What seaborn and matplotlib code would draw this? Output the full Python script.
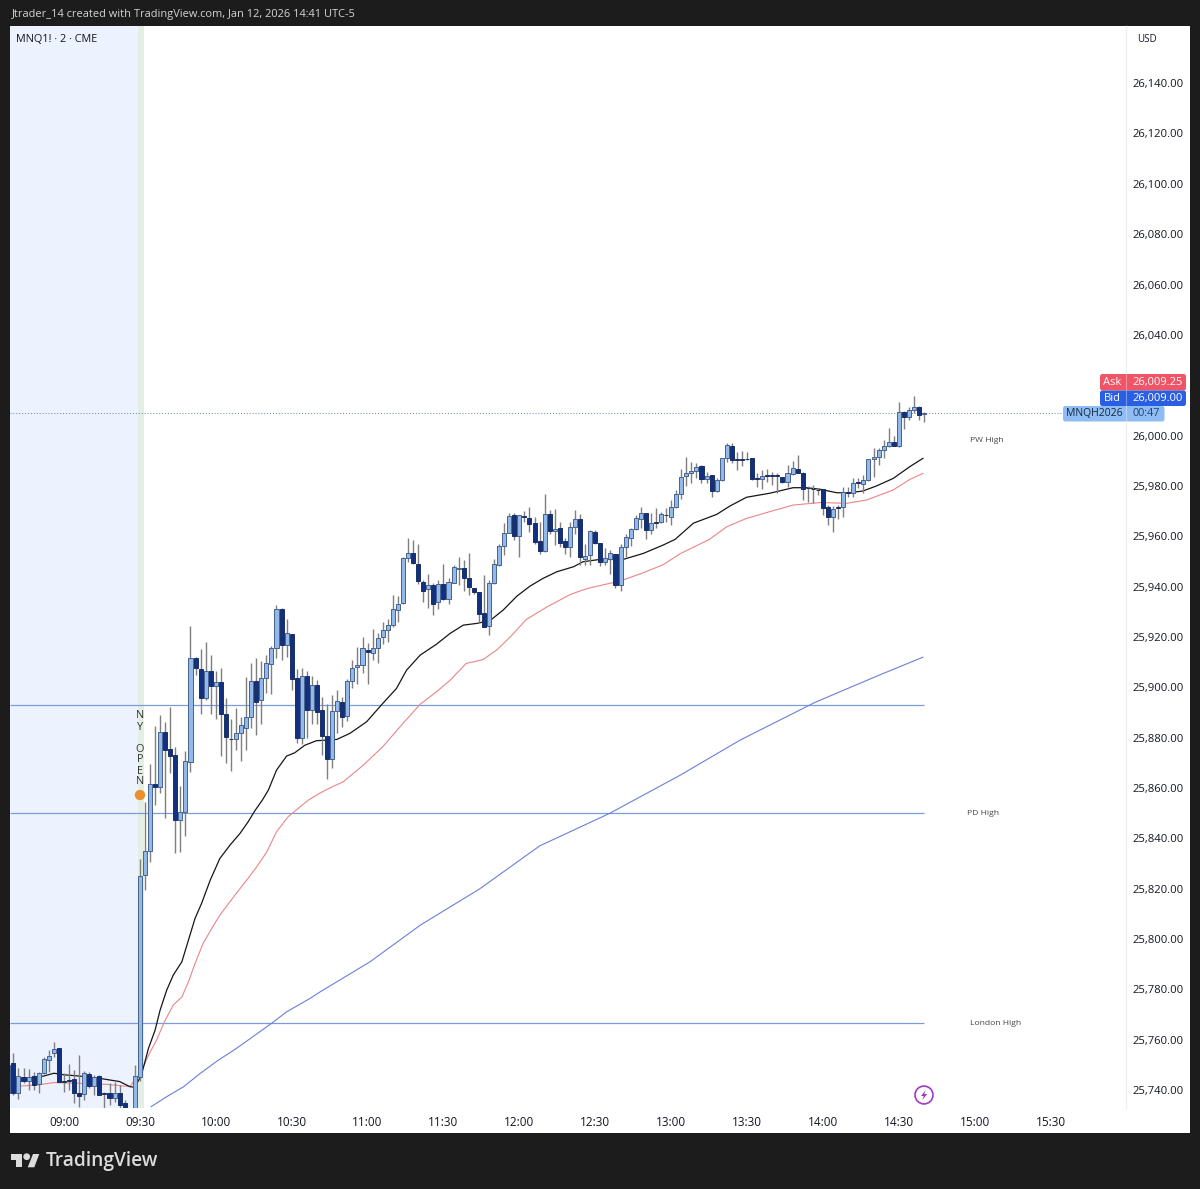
import numpy as np
import pandas as pd
import matplotlib
matplotlib.use("Agg")
import matplotlib.pyplot as plt
from matplotlib.patches import Rectangle, Polygon, FancyBboxPatch
import seaborn as sns

# 2 minute bars, index 0 = 09:00
bar_index = list(range(-11, 171))
opens = [
    25738.7, 25750.6, 25738.7, 25745.3, 25743.5, 25745.6, 25742.5, 25746.7, 25752, 25754.6,
    25756.6, 25743.5, 25743.9, 25744.5, 25739, 25738.3, 25746.4, 25741.8, 25745.6, 25738.8,
    25738.7, 25737, 25739, 25734.8, 25732, 25730, 25745.2, 25825.4, 25834.8, 25861.6,
    25860.5, 25882.3, 25875.7, 25873, 25847.5, 25850.6, 25870.4, 25911.7, 25907.2, 25895.6,
    25906.6, 25900.7, 25902, 25889.4, 25879.5, 25879.3, 25881.7, 25884, 25888.3, 25902.4,
    25894.9, 25903.9, 25909.2, 25915.8, 25931.3, 25916.7, 25921.1, 25903.9, 25879.7, 25904.4,
    25890.9, 25900.9, 25890.9, 25880.6, 25871.7, 25890.7, 25894.2, 25888.7, 25902.6, 25907.9,
    25908.8, 25915, 25913.8, 25915.8, 25919.8, 25922.7, 25924.7, 25930.9, 25933.6, 25951.4,
    25953.4, 25948.8, 25941.9, 25939.1, 25940.6, 25933.7, 25941.2, 25935.2, 25941.6, 25947.2,
    25947.6, 25943.6, 25939.3, 25937.7, 25929.6, 25924.3, 25941.6, 25948.5, 25956.1, 25961.4,
    25968.4, 25960.2, 25968.2, 25967.1, 25965.2, 25958.2, 25954.1, 25968.7, 25962.2, 25963.3,
    25958.1, 25955.6, 25963.5, 25966.7, 25951.1, 25952.7, 25961.8, 25957.2, 25949.6, 25951.1,
    25952.8, 25940.6, 25955.6, 25959.4, 25962.9, 25967, 25969.1, 25962.5, 25965.5, 25965.5,
    25968.6, 25967.8, 25971.7, 25976.8, 25984, 25985, 25986.1, 25988.1, 25982.6, 25984.2,
    25977.9, 25982.4, 25991, 25996, 25990.7, 25990.6, 25990.8, 25991, 25983, 25982.9,
    25984.2, 25984.2, 25984.2, 25983.4, 25981.7, 25984.6, 25986.6, 25985.3, 25979.2, 25978.9,
    25978.5, 25978.7, 25971.8, 25967.5, 25971.5, 25971.5, 25977.4, 25977.3, 25981.5, 25980.8,
    25982.4, 25990.6, 25991.6, 25994.3, 25995.9, 25997.6, 25995.8, 26009.5, 26007.5, 26010.1,
    26011.5, 26008.6,
]
highs = [
    25751, 25754.6, 25748.7, 25748.7, 25748.3, 25747.3, 25747.3, 25753.3, 25756, 25759.3,
    25756.6, 25746.7, 25750.4, 25748, 25754, 25747.7, 25747.3, 25746, 25746, 25739.4,
    25743, 25743.4, 25742, 25736, 25732.5, 25750, 25832, 25854.5, 25869.5, 25884.6,
    25889.2, 25886.3, 25892, 25876.4, 25860.9, 25874.8, 25924.3, 25912, 25915.4, 25918.1,
    25912.8, 25906.6, 25907.5, 25895.6, 25887.6, 25891.6, 25888.3, 25904.2, 25909.8, 25911.5,
    25910.5, 25912.8, 25916.4, 25932.6, 25931.5, 25927.3, 25921.3, 25907.2, 25907.5, 25906.6,
    25904.4, 25903.1, 25896.2, 25893.3, 25896.9, 25898.9, 25896.2, 25903.5, 25911, 25916.1,
    25920, 25917.7, 25923, 25921.6, 25926, 25927.3, 25936.6, 25936.2, 25951.6, 25959.5,
    25958.7, 25957.1, 25942.8, 25945.2, 25941.5, 25942.6, 25948.8, 25943.6, 25948.5, 25951.6,
    25950.5, 25953.4, 25939.5, 25937.9, 25944.6, 25942.6, 25950.8, 25957, 25965.1, 25969.1,
    25969.4, 25968.6, 25970.1, 25971.7, 25967.8, 25965.8, 25976.8, 25970.4, 25970.7, 25965.8,
    25959.5, 25965.8, 25970.4, 25968.8, 25956.9, 25962.5, 25962.5, 25957.4, 25955.2, 25954.5,
    25953, 25956.9, 25961.1, 25963.1, 25968.4, 25971.7, 25969.3, 25969.1, 25971.1, 25969.7,
    25971.1, 25974.6, 25978.4, 25986.6, 25991.6, 25989.6, 25989.3, 25988.3, 25985.7, 25984.4,
    25983, 25991.2, 25996.9, 25996.9, 25993.6, 25994, 25993.6, 25991.2, 25985, 25986.3,
    25986.6, 25985.7, 25985, 25983.6, 25988.3, 25990, 25992.3, 25985.5, 25980, 25980.4,
    25979, 25978.9, 25972.4, 25972, 25972.4, 25979.7, 25979.7, 25983, 25983, 25984.4,
    25990.8, 25995, 25995, 25998.3, 26002.9, 26000, 26013.4, 26009.7, 26011.5, 26015.7,
    26011.7, 26009.5,
]
lows = [
    25738, 25738, 25736.3, 25742.7, 25740, 25740, 25738.7, 25746.4, 25747.3, 25753.3,
    25743.2, 25739.4, 25740, 25734.8, 25733.4, 25736, 25740.7, 25738, 25738, 25733,
    25734, 25735.4, 25733, 25731, 25729, 25729, 25743.6, 25819.5, 25830.7, 25853.2,
    25857.9, 25847.9, 25865.8, 25834, 25834.7, 25840.9, 25866.5, 25905, 25889.6, 25894.9,
    25889.6, 25887.6, 25872.7, 25869.8, 25866.9, 25875, 25870.8, 25875.3, 25883.7, 25881,
    25885.4, 25897.6, 25897.3, 25911.5, 25910.8, 25912, 25898.9, 25877.7, 25877.4, 25879.7,
    25885.4, 25885.6, 25873, 25863.4, 25867.8, 25881.9, 25884.3, 25886.6, 25899.9, 25901.5,
    25905.8, 25901.3, 25911, 25909.5, 25917.1, 25918, 25923.8, 25926, 25933.3, 25949.8,
    25949, 25941.2, 25934, 25931.7, 25928.9, 25931.3, 25934.7, 25933, 25941.3, 25940.6,
    25938.3, 25936.6, 25937, 25925.4, 25923.8, 25920.7, 25941.2, 25948.3, 25952.5, 25961.2,
    25958.5, 25951.6, 25965.8, 25961.8, 25956.9, 25952.8, 25953.9, 25961.1, 25956.5, 25955.6,
    25952.9, 25951.6, 25960.9, 25948.6, 25948.6, 25948.6, 25956.9, 25948.2, 25948.6, 25945,
    25939.3, 25938.4, 25951.6, 25956.1, 25962.5, 25963.1, 25958.8, 25961.1, 25963.1, 25965.1,
    25965.8, 25964.5, 25971.1, 25974.7, 25980, 25981.3, 25983, 25981, 25981, 25975.5,
    25977.7, 25982, 25989.6, 25989, 25986.3, 25988, 25990.4, 25982.4, 25979.7, 25978.7,
    25981.7, 25980.4, 25977.3, 25981.2, 25979.7, 25984.4, 25985, 25974.4, 25973.8, 25973.4,
    25976.4, 25968.5, 25964.5, 25961.8, 25966.7, 25967.8, 25975.7, 25975.7, 25979, 25977.3,
    25982, 25983.7, 25988.3, 25991, 25995.6, 25995.8, 25995.6, 26002.8, 26006.2, 26008.8,
    26006.2, 26005.2,
]
closes = [
    25750, 25739, 25745.6, 25743.8, 25745.3, 25742, 25746.7, 25752.2, 25753.6, 25756.2,
    25743.2, 25743.2, 25743.7, 25739, 25737.7, 25746.7, 25741.8, 25745.3, 25738, 25738.6,
    25737, 25738.7, 25734.2, 25732, 25731, 25745.6, 25825, 25835.1, 25861.6, 25860.5,
    25882.3, 25875, 25872.8, 25847.3, 25850.6, 25870.7, 25911.5, 25907.5, 25895.6, 25906.4,
    25900.6, 25902.3, 25889.6, 25880.1, 25879.3, 25881.7, 25884.9, 25888.3, 25902.6, 25894.2,
    25903.9, 25909.5, 25915.8, 25931.3, 25916.7, 25921.4, 25903.5, 25879.9, 25904.6, 25890.9,
    25900.9, 25890.3, 25880.6, 25871.5, 25890.7, 25894.5, 25888.3, 25902.6, 25907.7, 25908.8,
    25915.7, 25914.1, 25915.7, 25919.7, 25922.7, 25924.7, 25931.3, 25933.3, 25951.4, 25953.4,
    25949.2, 25942.2, 25938.3, 25940.6, 25933, 25941.2, 25934.9, 25941.9, 25947.9, 25947.6,
    25943.5, 25939.9, 25937.8, 25929.3, 25924, 25941.6, 25948.8, 25956, 25961.4, 25968.2,
    25960.1, 25968.4, 25967.6, 25965, 25957.8, 25954.3, 25968.7, 25962.1, 25963, 25957.4,
    25955.7, 25963.5, 25966.7, 25951.6, 25952.3, 25962.2, 25957.2, 25949.6, 25951.5, 25953.5,
    25940.6, 25955.6, 25959.6, 25962.9, 25967.1, 25969.1, 25962.5, 25965.1, 25965.1, 25968.7,
    25968.4, 25971.7, 25976.8, 25983.7, 25985.1, 25986.1, 25987.7, 25982.6, 25984.1, 25978.1,
    25982.4, 25991, 25996.3, 25990.3, 25990.5, 25990.4, 25990.6, 25982.6, 25982.8, 25984,
    25984, 25984, 25984, 25981.4, 25985, 25987, 25985.3, 25978.7, 25979.1, 25978.8,
    25978.4, 25971.4, 25967.8, 25970.7, 25971.3, 25977.7, 25977.2, 25981.3, 25981.3, 25982.4,
    25990.6, 25991.6, 25994.3, 25995.9, 25997.6, 25996, 26009.5, 26007.5, 26010.1, 26011.5,
    26008.1, 26009,
]

black_x = [-9, -4, -2, 0, 3, 7, 11, 13, 14, 15.3, 16.7, 18, 19, 20.3, 21.6, 23.3, 24.6, 25.9, 27.2, 28.9,
           30.8, 32.8, 34.8, 36.4, 37.8, 39.2, 40.4, 42, 44, 45.6, 47.6, 49.9, 51.6, 53.9, 56.5, 59.8,
           63, 65.7, 67.7, 70.4, 73.6, 76.3, 78.9, 81.6, 84.2, 86.8, 89.5, 92.1, 94.7, 97.4, 100.7,
           102.6, 105.9, 110.5, 114.5, 118.4, 120.8, 124.4, 129, 131.6, 134.9, 139.5, 144.1, 146.8,
           149.4, 152.7, 155.3, 157.9, 160.6, 163.9, 167.2, 169.8]
black_y = [25744.4, 25745.6, 25746.7, 25746.1, 25745.6, 25744.7, 25743.4, 25741.4, 25741.1, 25746,
           25756.6, 25763.8, 25771.8, 25779.7, 25785.7, 25791, 25799.6, 25808.2, 25814.2, 25823.4,
           25832, 25837.3, 25842, 25846.6, 25851.2, 25855.2, 25859.2, 25867.1, 25872.7, 25874, 25877,
           25878.8, 25879, 25879.3, 25881.7, 25886.3, 25893.6, 25899.5, 25906.8, 25912.8, 25917.1,
           25921.4, 25924.7, 25925.4, 25926.5, 25930.7, 25936.2, 25940.2, 25943.3, 25945.9, 25947.9,
           25949.9, 25950.8, 25950.8, 25953.2, 25956.5, 25958.8, 25965.2, 25968.7, 25972, 25975.5,
           25977.1, 25979.3, 25979.3, 25978.7, 25977.3, 25977.3, 25978, 25980, 25983, 25987.7, 25991]
red_x = [-9, -5.4, -2, 3, 8.4, 13, 15.3, 16.7, 18.3, 20, 21.6, 23.3, 24.6, 25.9, 27.5, 29.2, 30.8, 33.8,
         36.1, 38.1, 40.1, 42, 44.3, 46.7, 48.3, 50.6, 52.3, 55.2, 59.1, 63, 66.4, 70.4, 73.6, 76.3,
         79.5, 82.8, 85.5, 88.1, 91.4, 95.5, 100.2, 103.5, 107.2, 110, 114.2, 118.3, 121.9, 127.6, 131,
         134.9, 140.2, 144.1, 149.4, 154.7, 158.6, 163.9, 167.2, 169.8]
red_y = [25741.6, 25742, 25743, 25742.7, 25742.3, 25741.4, 25747.3, 25753.9, 25759.9, 25767.8, 25773.8,
         25777, 25783, 25790.3, 25798.3, 25804.2, 25809.5, 25817.5, 25823.4, 25828.7, 25834.7, 25842.6,
         25848.6, 25852.6, 25855.2, 25858, 25859.8, 25862.5, 25869, 25876.4, 25884.3, 25893.3, 25898.2,
         25902.8, 25909.5, 25911, 25914.8, 25919.8, 25927, 25932, 25937, 25939.3, 25941, 25942.3, 25945.3,
         25948.6, 25953.2, 25958.8, 25963.8, 25967.1, 25970.2, 25972.4, 25973.4, 25973.1, 25974.4,
         25978.4, 25982.6, 25985]
blue_x = [17.2, 20.3, 23.6, 26.9, 30.5, 34.1, 37.8, 41, 44, 48.6, 50.6, 60.5, 70.4, 82.2, 94, 107.9,
          121.7, 133.6, 148.4, 161.3, 169.8]
blue_y = [25733.4, 25737.4, 25741.3, 25746.6, 25751.9, 25756.6, 25761.9, 25766.5, 25771.1, 25776.4,
          25779, 25791, 25805.5, 25820, 25837, 25850, 25865, 25879, 25894, 25905, 25912]

level_prices = [25893, 25850, 25766.5]
level_names = ["PW High", "PD High", "London High"]
level_label_prices = [25998, 25850, 25766.5]
level_label_x = [179, 178.4, 179]

price_ticks = [v for v in range(25740, 26141, 20) if v != 26020]
time_ticks = list(range(0, 196, 15))
time_labels = ["09:00", "09:30", "10:00", "10:30", "11:00", "11:30", "12:00", "12:30", "13:00",
               "13:30", "14:00", "14:30", "15:00", "15:30"]
last_price = 26009

W, H = 1200, 1189
DARK = "#1c1c1c"
FONT = "Open Sans"
TEXT = "#131722"


def fx(x):
    return x / W


def fy(y):
    return 1 - y / H


sns.set_theme(style="white")
plt.rcParams["font.family"] = [FONT, "DejaVu Sans"]

fig = plt.figure(figsize=(12, 11.89), dpi=100, facecolor=DARK)
fig.add_artist(Rectangle((fx(10), fy(1133)), 1180 / W, 1107 / H, transform=fig.transFigure,
                         facecolor="white", edgecolor="none", zorder=-5))

ax = fig.add_axes([fx(10), fy(1107.5), 1116 / W, 1081.5 / H])
ax.patch.set_alpha(0)
ax.set_xlim(-10.67, 209.9)
ax.set_ylim(25733.1, 26162.7)

# session backgrounds
ax.axvspan(-10.67, 14.6, color="#ecf2fe", lw=0, zorder=0)
ax.axvspan(14.6, 15.75, color="#e3efe3", lw=0, zorder=0)

for p in level_prices:
    ax.hlines(p, -10.67, 170, color="#7a9cd8", lw=0.9, zorder=1)
ax.axhline(last_price, color="#5f7fb8", lw=0.7, ls=(0, (1, 2)), zorder=1)

sns.lineplot(x=blue_x, y=blue_y, ax=ax, color="#6a80d8", lw=0.8, estimator=None, zorder=2)
sns.lineplot(x=red_x, y=red_y, ax=ax, color="#e98686", lw=0.8, estimator=None, zorder=2)
sns.lineplot(x=black_x, y=black_y, ax=ax, color="#161616", lw=0.9, estimator=None, zorder=2)

df = pd.DataFrame({"i": bar_index, "o": opens, "h": highs, "l": lows, "c": closes})
up = df[df.c >= df.o]
down = df[df.c < df.o]
ax.vlines(df.i, df.l, df.h, color="#7f7f7f", lw=1, zorder=3)
ax.bar(up.i, up.c - up.o, bottom=up.o, width=0.8, color="#93b8ea", edgecolor="#47628f", lw=0.7, zorder=4)
ax.bar(down.i, down.o - down.c, bottom=down.c, width=0.8, color="#123080", edgecolor="#1a2f63", lw=0.7, zorder=4)

ax.yaxis.tick_right()
ax.set_yticks(price_ticks)
ax.set_yticklabels([f"{v:,.2f}" for v in price_ticks], fontsize=8.1, color=TEXT, fontweight="medium")
ax.set_xticks(time_ticks)
ax.set_xticklabels(time_labels, fontsize=8.5, color=TEXT, fontweight="medium")
ax.tick_params(axis="y", length=0, pad=5)
ax.tick_params(axis="x", length=0, pad=6)
for s in ax.spines.values():
    s.set_visible(False)
ax.spines["right"].set_visible(True)
ax.spines["right"].set_color("#f0f0f0")
ax.spines["right"].set_linewidth(1)

for name, price, x in zip(level_names, level_label_prices, level_label_x):
    ax.text(x, price, name, fontsize=6.1, color="#444444", ha="left", va="center")

fig.text(fx(12), fy(14), "Jtrader_14 created with TradingView.com, Jan 12, 2026 14:41 UTC-5",
         color="#d4d4d4", fontsize=7.9, va="center")
fig.text(fx(16), fy(39), "MNQ1! · 2 · CME", color=TEXT, fontsize=7.8, va="center")
fig.text(fx(1137), fy(40), "USD", color=TEXT, fontsize=7, va="center")
fig.text(fx(46), fy(1161), "TradingView", color="#dcdcdc", fontsize=13.8, fontweight="semibold", va="center")

# NY OPEN marker
fig.text(fx(140), fy(749), "N\nY\n \nO\nP\nE\nN", color="#333333", fontsize=7.8, ha="center", va="center",
         linespacing=1.0)
fig.add_artist(plt.Circle((fx(140), fy(795)), 4.5 / W, transform=fig.transFigure, color="#ee8f2d"))


# price tags
def tag(x0, y0, x1, y1, color):
    fig.add_artist(FancyBboxPatch((fx(x0), fy(y1)), (x1 - x0) / W, (y1 - y0) / H,
                                  boxstyle="round,pad=0,rounding_size=0.002", transform=fig.transFigure,
                                  facecolor=color, edgecolor="none", zorder=5))


tag(1100, 374, 1186, 390.5, "#ef5566")
tag(1100, 390.5, 1186, 406, "#2a5fe3")
tag(1063, 406, 1164.5, 421.5, "#8fbdf3")
fig.add_artist(plt.Line2D([fx(1125.5)] * 2, [fy(374), fy(421.5)], color="white", alpha=0.35, lw=0.8, zorder=6))
tag_text = [
    (1112, 382.5, "Ask", "white"), (1157.5, 382, "26,009.25", "white"),
    (1112, 398.5, "Bid", "white"), (1157.5, 398, "26,009.00", "white"),
]
for x, y, s, c in tag_text:
    fig.text(fx(x), fy(y), s, color=c, fontsize=8, ha="center", va="center", zorder=7, fontweight="medium")
fig.text(fx(1094), fy(414), "MNQH2026", color="#12243f", fontsize=7.5, ha="center", va="center", zorder=7)
fig.text(fx(1146), fy(414), "00:47", color="#20406e", fontsize=7.8, ha="center", va="center", zorder=7)

# lightning icon
fig.add_artist(plt.Circle((fx(924), fy(1095)), 9 / W, transform=fig.transFigure, facecolor="white",
                          edgecolor="#a13bc4", lw=1.2, zorder=5))
bolt = [(925.7, 1090), (921, 1096), (923.7, 1096), (922.3, 1100), (927.3, 1094), (924.3, 1094)]
fig.add_artist(Polygon([(fx(a), fy(b)) for a, b in bolt], transform=fig.transFigure,
                       facecolor="#a13bc4", edgecolor="none", zorder=6))

# logo
logo = [
    [(11, 1154), (22.3, 1154), (22.3, 1167.3), (16, 1167.3), (16, 1160), (11, 1160)],
    [(33, 1154), (39.3, 1154), (34.3, 1167.3), (27.7, 1167.3)],
]
for pts in logo:
    fig.add_artist(Polygon([(fx(a), fy(b)) for a, b in pts], transform=fig.transFigure,
                           facecolor="#dcdcdc", edgecolor="none"))
fig.add_artist(plt.Circle((fx(26.7), fy(1156.7)), 2.7 / W, transform=fig.transFigure, color="#dcdcdc"))

fig.savefig("out.png", dpi=100, facecolor=DARK)
